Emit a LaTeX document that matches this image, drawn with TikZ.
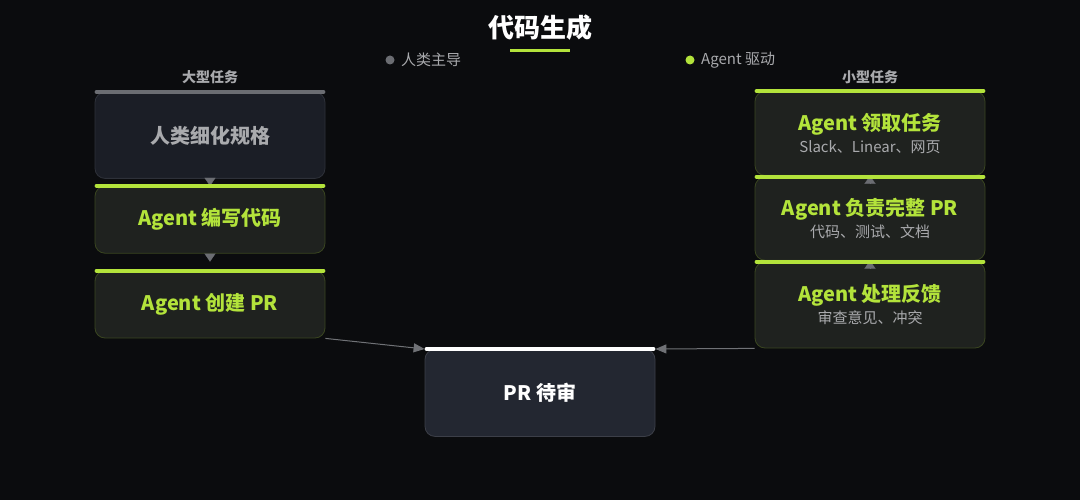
\documentclass[tikz,border=0pt]{standalone}
\usepackage{fontspec}
\setmainfont{Noto Sans CJK SC}
\usepackage{xcolor}
\usetikzlibrary{arrows.meta,positioning}

\definecolor{bgcol}{HTML}{0B0C0E}
\definecolor{agentgreen}{HTML}{B3E33B}
\definecolor{humangrey}{HTML}{6B6D72}
\definecolor{labelgrey}{HTML}{A9AAAD}
\definecolor{humanfill}{HTML}{1B1E26}
\definecolor{humanedge}{HTML}{2E3139}
\definecolor{agentfill}{HTML}{1F221F}
\definecolor{agentedge}{HTML}{3A4620}
\definecolor{reviewfill}{HTML}{232731}
\definecolor{reviewedge}{HTML}{3C3F48}
\definecolor{linegrey}{HTML}{707276}

\begin{document}
\begin{tikzpicture}[
      x = 1pt, y = -1pt,
      > = {Triangle[length=8pt,width=11pt]}
    ]
    \tikzstyle{box} = [rectangle, rounded corners=10pt, line width=0.8pt,
      minimum width=230pt, inner sep=0pt, align=center, font=\fontsize{20}{24}\selectfont\bfseries]
    \tikzstyle{human node} = [box, fill=humanfill, draw=humanedge, text=labelgrey]
    \tikzstyle{agent node} = [box, fill=agentfill, draw=agentedge, text=agentgreen]
    \tikzstyle{review node} = [box, fill=reviewfill, draw=reviewedge, text=white]
    \tikzstyle{step arrow} = [->, humangrey, line width=0.1pt]
    \tikzstyle{my line} = [->, linegrey, line width=1pt, > = {Triangle[length=11pt,width=9pt]}]
    \tikzstyle{bar} = [line width=4pt, line cap=round, shorten <=2pt, shorten >=2pt]
    \tikzstyle{dot} = [circle, inner sep=0pt, minimum size=9pt]
    \tikzstyle{legend} = [text=labelgrey, font=\fontsize{15}{17}\selectfont]
    \tikzstyle{group} = [text=labelgrey, font=\fontsize{14}{16}\selectfont\bfseries]
    \newcommand{\subline}[1]{\\[-2pt]{\fontsize{15}{17}\selectfont\mdseries\color{labelgrey}#1}}

    \fill[bgcol] (0,0) rectangle (1080,500);

    % title and legend
    \node[text=white, font=\fontsize{26}{30}\selectfont\bfseries] (title) at (540,28) {代码生成};
    \node[fill=agentgreen, minimum width=60pt, minimum height=3pt, inner sep=0pt] (rule) at (540,51) {};
    \node[dot, fill=humangrey] (hdot) at (390,60) {};
    \node[legend, right=3pt of hdot] (hlabel) {人类主导};
    \node[dot, fill=agentgreen] (adot) at (690,60) {};
    \node[legend, right=3pt of adot] (alabel) {Agent 驱动};

    % large tasks
    \node[group] (big) at (210,77) {大型任务};
    \node[human node, minimum height=86pt, anchor=north] (L1) at (210,92) {人类细化规格};
    \node[agent node, minimum height=67pt] (L2) [below=7pt of L1] {Agent 编写代码};
    \node[agent node, minimum height=67pt] (L3) [below=17pt of L2] {Agent 创建 PR};

    % small tasks
    \node[group] (small) at (870,77) {小型任务};
    \node[agent node, minimum height=84pt, anchor=north] (R1) at (870,91) {Agent 领取任务\subline{Slack、Linear、网页}};
    \node[agent node, minimum height=83pt] (R2) [below=1pt of R1] {Agent 负责完整 PR\subline{代码、测试、文档}};
    \node[agent node, minimum height=86pt] (R3) [below=1pt of R2] {Agent 处理反馈\subline{审查意见、冲突}};

    % review
    \node[review node, minimum height=87pt, anchor=north] (PR) at (540,349) {PR 待审};

    \draw[step arrow] (L1.south) -- (L2.north);
    \draw[step arrow, shorten >=9pt] (L2.south) -- (L3.north);
    \draw[step arrow] (R2.north) -- (R1.south);
    \draw[step arrow] (R3.north) -- (R2.south);
    \draw[my line] (L3.south east) -- (PR.north west);
    \draw[my line] (R3.south west) -- (PR.north east);

    \draw[bar, humangrey] (L1.north west) -- (L1.north east);
    \foreach \n in {L2,L3,R1,R2,R3}
      \draw[bar, agentgreen] (\n.north west) -- (\n.north east);
    \draw[bar, white] (PR.north west) -- (PR.north east);
  \end{tikzpicture}
\end{document}
